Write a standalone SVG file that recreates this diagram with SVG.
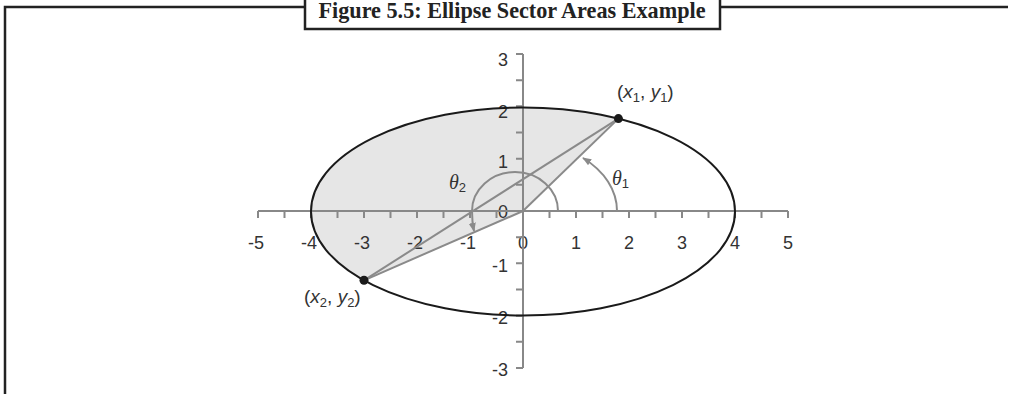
<svg xmlns="http://www.w3.org/2000/svg" width="1010" height="394" viewBox="0 0 1010 394">
<style>
.frame{fill:none;stroke:#222;stroke-width:2.5}
.axis{fill:none;stroke:#888;stroke-width:2}
.gl{fill:none;stroke:#8a8a8a;stroke-width:2}
.lbl{font-family:"Liberation Sans",Arial,sans-serif;font-size:18px;fill:#333}
.xl{text-anchor:middle}
.yl{text-anchor:end}
.pl{font-size:19px}
.th{font-family:"Liberation Serif","Times New Roman",serif;font-style:italic;font-size:20px;fill:#333}
.sub{font-family:"Liberation Sans",Arial,sans-serif;font-style:normal;font-size:13px}
.it{font-style:italic}
</style>
<defs>
<marker id="arr" viewBox="0 0 10 10" refX="9" refY="5" markerWidth="9" markerHeight="9" markerUnits="userSpaceOnUse" orient="auto">
<path d="M0,1 L10,5 L0,9 Z" fill="#8a8a8a"/>
</marker>
</defs>
<rect width="1010" height="394" fill="#fff"/>
<g id="frame">
<path class="frame" d="M5,394 V7 H305 M720,7 H1008"/>
<rect class="frame" x="305" y="-5" width="415" height="34" fill="#fff"/>
<text x="512" y="18" font-family="'Liberation Serif','Times New Roman',serif" font-weight="bold" font-size="23" fill="#222" text-anchor="middle" textLength="387" lengthAdjust="spacingAndGlyphs">Figure 5.5: Ellipse Sector Areas Example</text>
</g>
<g id="sector">
<path d="M523,211 L618.4,118.6 A212,104 0 0 0 364,280.3 Z" fill="#e6e6e6"/>
</g>
<g id="x-labels" class="lbl xl">
<text x="256" y="249">-5</text>
<text x="309" y="249">-4</text>
<text x="362" y="249">-3</text>
<text x="415" y="249">-2</text>
<text x="468" y="249">-1</text>
<text x="523" y="249">0</text>
<text x="576" y="249">1</text>
<text x="629" y="249">2</text>
<text x="682" y="249">3</text>
<text x="735" y="249">4</text>
<text x="788" y="249">5</text>
</g>
<g id="y-labels" class="lbl yl">
<text x="508" y="66">3</text>
<text x="508" y="118">2</text>
<text x="508" y="168">1</text>
<text x="508" y="218">0</text>
<text x="508" y="272">-1</text>
<text x="508" y="324">-2</text>
<text x="508" y="376">-3</text>
</g>
<g id="axes">
<path class="axis" d="M258,211 H788 M523,54 V368"/>
<path class="axis" d="M258,211v7M284.5,211v7M311,211v7M337.5,211v7M364,211v7M390.5,211v7M417,211v7M443.5,211v7M470,211v7M496.5,211v7M549.5,211v7M576,211v7M602.5,211v7M629,211v7M655.5,211v7M682,211v7M708.5,211v7M735,211v7M761.5,211v7M788,211v7"/>
<path class="axis" d="M516,54h7M516,80.2h7M516,106.3h7M516,132.5h7M516,158.7h7M516,184.8h7M516,237.2h7M516,263.3h7M516,289.5h7M516,315.7h7M516,341.8h7M516,368h7"/>
</g>
<g id="connectors">
<path class="gl" d="M523,211 L618.4,118.6"/>
<path class="gl" d="M523,211 L364,280.3"/>
<path class="gl" d="M364,280.3 L618.4,118.6"/>
<path class="gl" d="M617,211 A95,69 0 0 0 583,158" marker-end="url(#arr)"/>
<path class="gl" d="M558,211 A43,39 0 0 0 472,211 Q472,222 474,231" marker-end="url(#arr)"/>
</g>
<g id="ellipse">
<ellipse cx="523" cy="211.5" rx="212" ry="104" fill="none" stroke="#1a1a1a" stroke-width="2"/>
</g>
<g id="point1">
<circle cx="618.4" cy="118.6" r="4.5" fill="#1a1a1a"/>
<text class="lbl pl" x="617" y="98">(<tspan class="it">x</tspan><tspan class="sub" dy="4">1</tspan><tspan dy="-4">, </tspan><tspan class="it">y</tspan><tspan class="sub" dy="4">1</tspan><tspan dy="-4">)</tspan></text>
</g>
<g id="point2">
<circle cx="364" cy="280.3" r="4.5" fill="#1a1a1a"/>
<text class="lbl pl" x="304" y="303">(<tspan class="it">x</tspan><tspan class="sub" dy="4">2</tspan><tspan dy="-4">, </tspan><tspan class="it">y</tspan><tspan class="sub" dy="4">2</tspan><tspan dy="-4">)</tspan></text>
</g>
<g id="theta1">
<text class="th" x="612" y="185">θ<tspan class="sub" dy="3">1</tspan></text>
</g>
<g id="theta2">
<text class="th" x="449" y="189">θ<tspan class="sub" dy="3">2</tspan></text>
</g>
</svg>
